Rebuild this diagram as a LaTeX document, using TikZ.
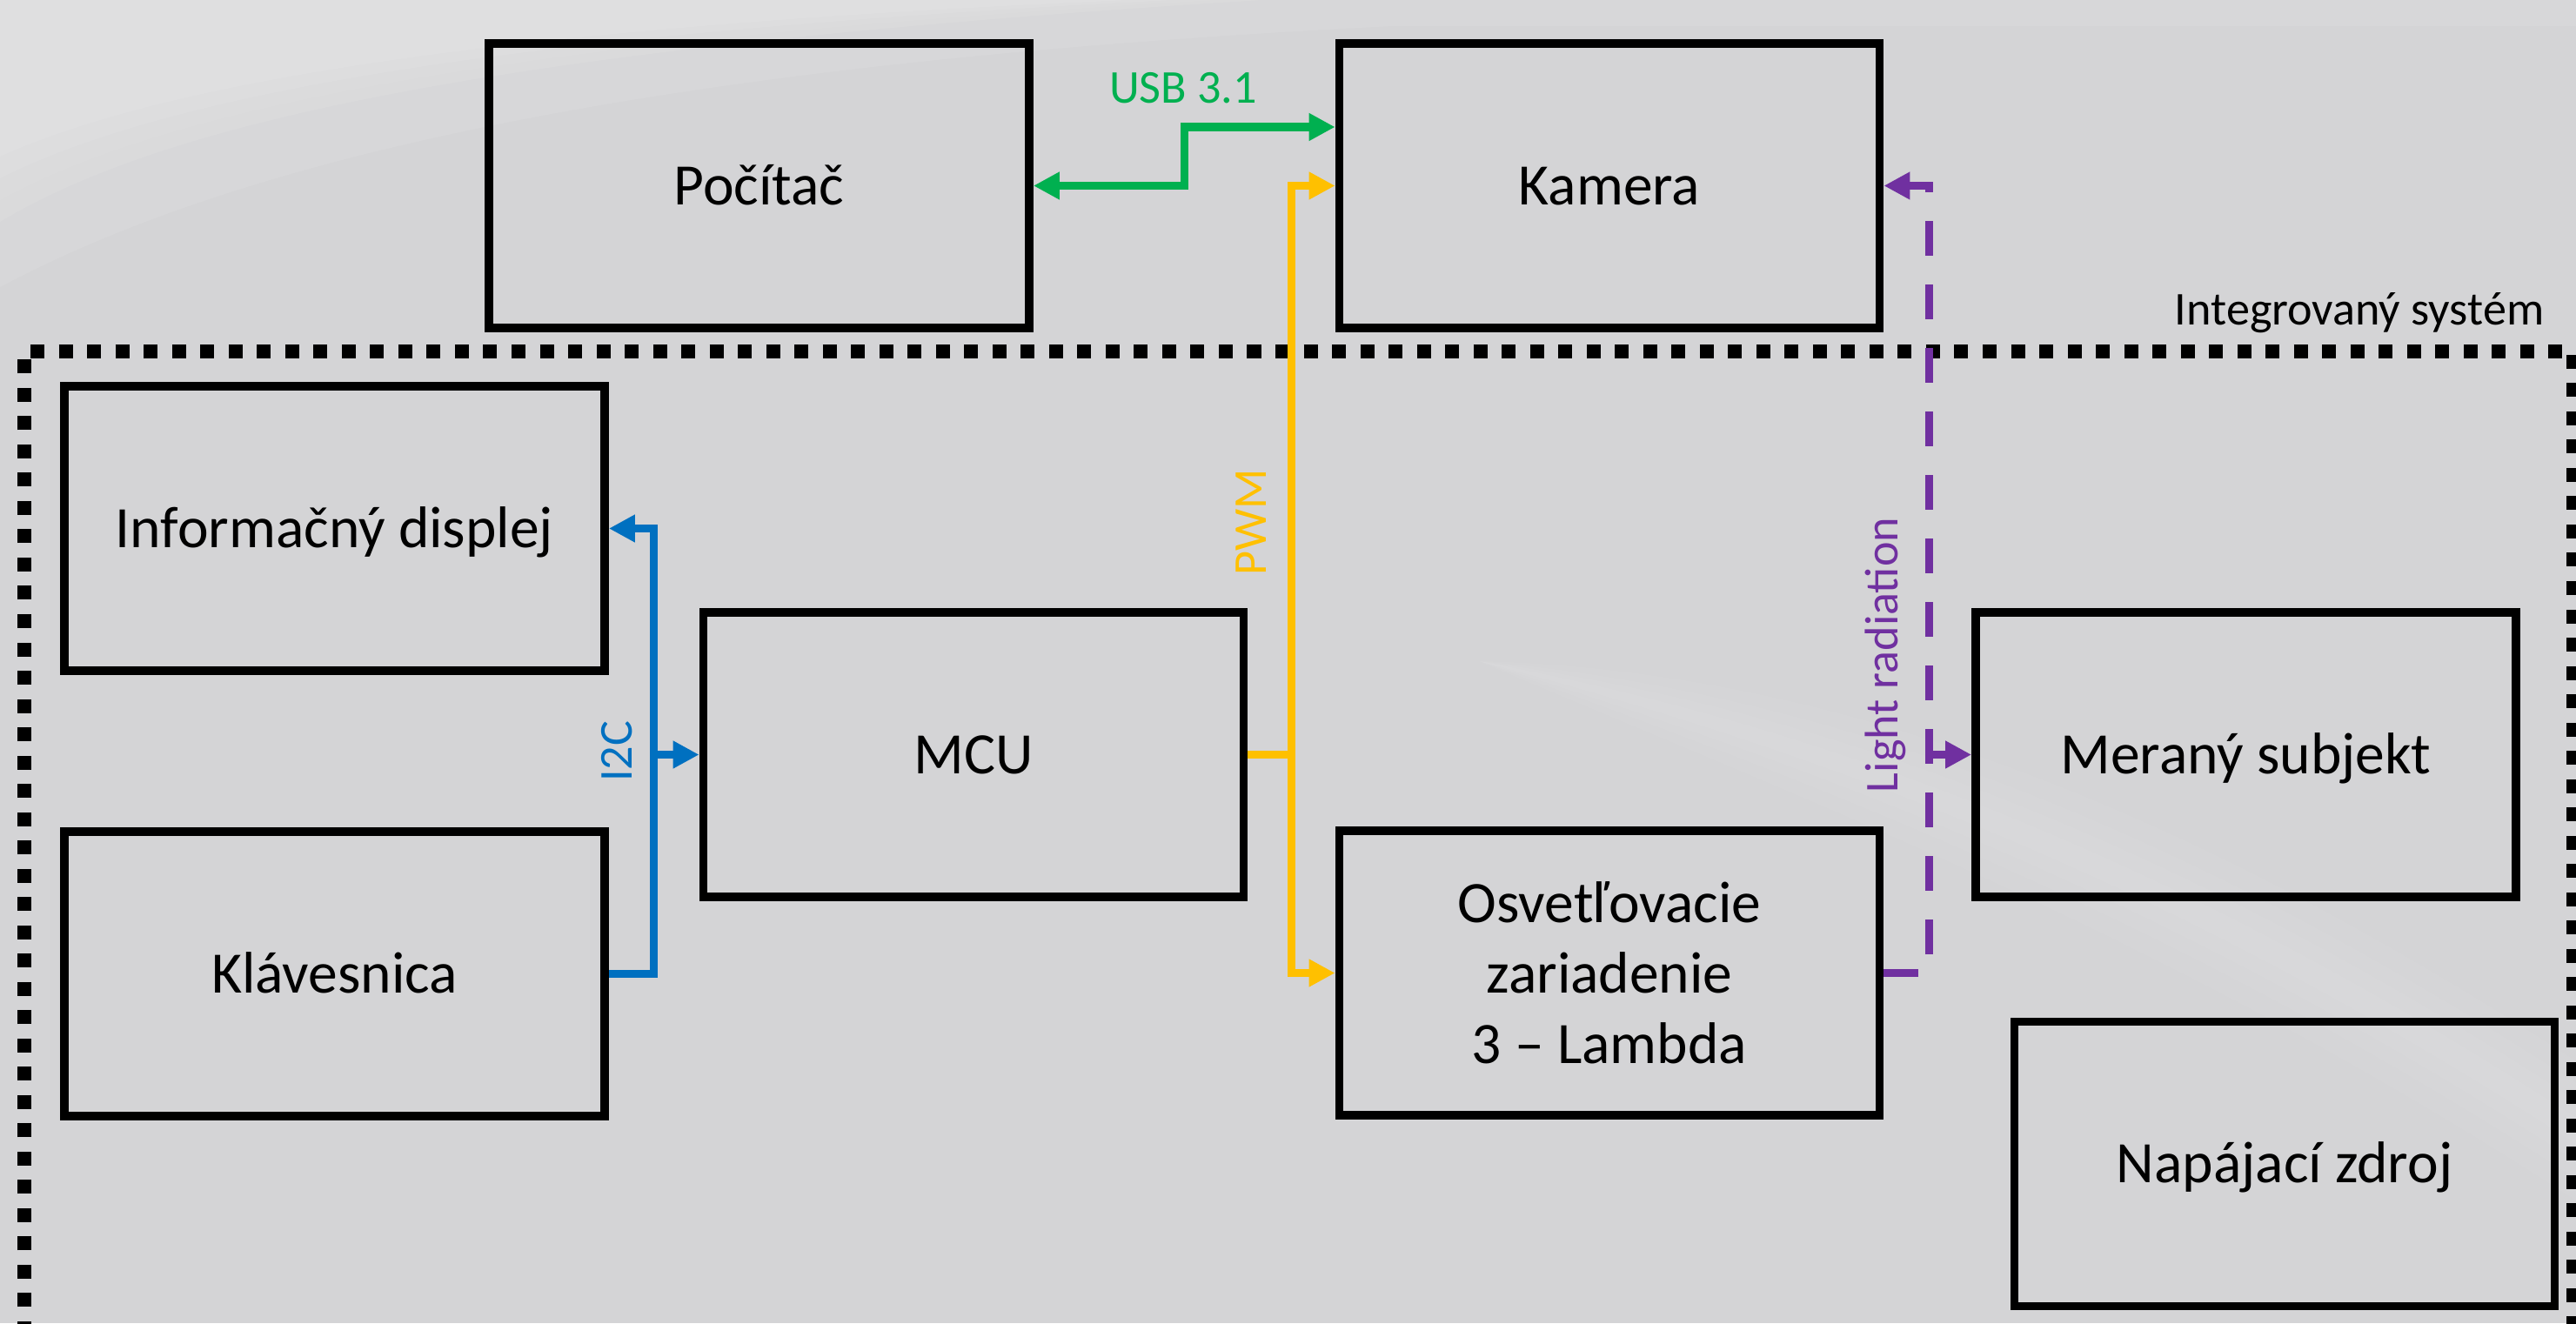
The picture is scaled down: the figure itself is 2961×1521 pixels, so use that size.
\documentclass[tikz,border=0pt]{standalone}
\usepackage{fontspec}
\setmainfont{Carlito}
\usetikzlibrary{arrows.meta}
\definecolor{bgc}{HTML}{D4D4D6}
\definecolor{usbc}{HTML}{00B050}
\definecolor{pwmc}{HTML}{FFC000}
\definecolor{i2cc}{HTML}{0070C0}
\definecolor{radc}{HTML}{7030A0}
\begin{document}
\begin{tikzpicture}[x=0.01cm,y=-0.01cm,
  blk/.style={draw=black, line width=0.095cm, minimum width=6.21cm, minimum height=3.27cm,
    inner sep=0pt, font=\fontsize{19.2pt}{23pt}\selectfont},
  oneline/.style={text height=0.43cm, text depth=0pt},
  lbl/.style={font=\fontsize{15.4pt}{18pt}\selectfont, inner sep=0pt},
  conn/.style={line width=0.09cm},
  tip/.style={-{Triangle[length=0.3cm,width=0.3cm]}},
  dtip/.style={{Triangle[length=0.3cm,width=0.3cm]}-{Triangle[length=0.3cm,width=0.3cm]}},
  frame/.style={line width=0.16cm, dash pattern=on 0.16cm off 0.165cm},
  raddash/.style={dash pattern=on 0.4cm off 0.33cm}
 ]
\useasboundingbox (0,0) rectangle (2961,1521);
\clip (0,0) rectangle (2961,1521);
% background
\fill[bgc] (0,0) rectangle (2961,1521);
\foreach \s in {0,25,50,75}{
  \fill[white, opacity=0.07] (0,0) -- (0,{180+\s}) .. controls (200,{90+0.6*\s}) and (600,{30+0.3*\s}) .. ({1300+2*\s},0) -- cycle;
}
\fill[white, opacity=0.08] (0,0) -- (0,330) .. controls (300,170) and (800,70) .. (1600,30) -- (2961,30) -- (2961,0) -- cycle;
\foreach \w in {15,35,55,80}{
  \fill[white, opacity=0.035] (1700,760) .. controls (2100,{850-\w}) and (2500,{1000-\w}) .. (2961,{1300-\w}) -- (2961,{1300+\w}) .. controls (2500,{1000+\w}) and (2100,{850+\w}) .. (1700,760) -- cycle;
}

% integrated system frame
\draw[frame] (28,1600) -- (28,404) -- (2958,404) -- (2958,1600);
\node[lbl, anchor=base] (sys) at (2712,373) {Integrovaný systém};

% blocks
\node[blk, oneline] (pc)    at (872.5,213.5) {Počítač};
\node[blk, oneline] (cam)   at (1850,213.5)  {Kamera};
\node[blk, oneline] (disp)  at (384.5,607.5) {Informačný displej};
\node[blk, oneline] (kbd)   at (384.5,1119.5) {Klávesnica};
\node[blk, oneline] (mcu)   at (1119,867.5)  {MCU};
\node[blk, align=center] (light) at (1850,1118.5) {Osvetľovacie\\zariadenie\\3 – Lambda};
\node[blk, oneline] (subj)  at (2581.5,867.5) {Meraný subjekt};
\node[blk, oneline] (psu)   at (2626,1338)   {Napájací zdroj};

% helper coordinates
\coordinate (usbx) at (1361,146);
\coordinate (pwmx) at (1484,0);
\coordinate (i2cx) at (751,0);
\coordinate (radx) at (2217,0);

% USB 3.1
\draw[conn, usbc, dtip] (pc.east) -| (usbx) -- (usbx -| cam.west);
\node[lbl, text=usbc, anchor=base] (usbl) at (1360,118) {USB 3.1};

% PWM
\draw[conn, pwmc, dtip] (cam.west) -| (pwmx |- light.west) -- (light.west);
\draw[conn, pwmc] (mcu.east) -- (mcu.east -| pwmx);
\node[lbl, text=pwmc, rotate=90, anchor=base] (pwml) at (1455,600) {PWM};

% I2C
\draw[conn, i2cc, tip] (kbd.east) -| (i2cx |- disp.east) -- (disp.east);
\draw[conn, i2cc, tip] (i2cx |- mcu.west) -- (mcu.west);
\node[lbl, text=i2cc, rotate=90, anchor=base] (i2cl) at (726,864) {I2C};

% Light radiation
\draw[conn, radc, raddash, tip] (light.east) -| (radx |- cam.east) -- (cam.east);
\draw[conn, radc, tip] (radx |- subj.west) -- (subj.west);
\node[lbl, text=radc, rotate=90, anchor=base] (radl) at (2181,753) {Light radiation};
\end{tikzpicture}
\end{document}
